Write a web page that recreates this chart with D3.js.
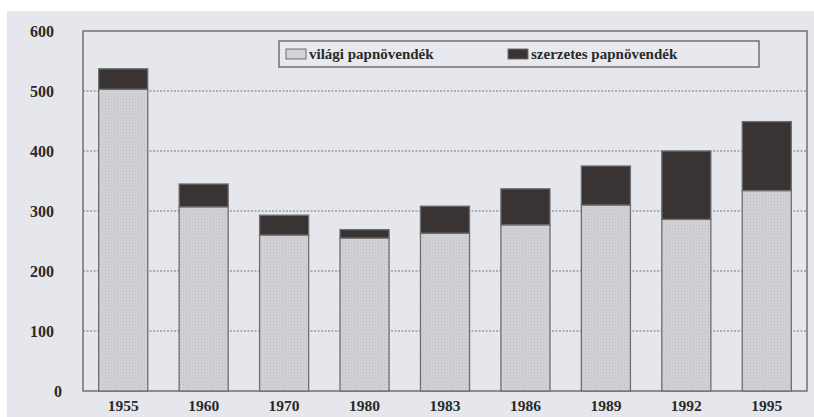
<!DOCTYPE html>
<html>
<head>
<meta charset="utf-8">
<script src="https://cdn.jsdelivr.net/npm/d3@7"></script>
<style>
  body { margin: 0; background: #fff; }
  svg { display: block; }
  text { font-family: "Liberation Serif", "DejaVu Serif", serif; font-weight: bold; fill: #2a2a2a; }
</style>
</head>
<body>
<svg id="chart"></svg>
<script>
// papnövendékek száma évenként, világi + szerzetes (halmozott oszlopok)
const years = ["1955", "1960", "1970", "1980", "1983", "1986", "1989", "1992", "1995"];
const secular = [503, 307, 260, 255, 263, 277, 310, 286, 334];
const religious = [34, 38, 33, 14, 45, 60, 65, 114, 115];
const yTicks = [0, 100, 200, 300, 400, 500, 600];
const seriesNames = ["világi papnövendék", "szerzetes papnövendék"];

const W = 814, H = 417;
const margin = {top: 31, right: 7, bottom: 26, left: 83};

const svg = d3.select("#chart").attr("width", W).attr("height", H);

// paper background (scan has a white strip top and left)
svg.append("rect").attr("x", 7).attr("y", 11).attr("width", W - 7).attr("height", H - 11)
  .attr("fill", "#e6e7ed");

const defs = svg.append("defs");
const pat = defs.append("pattern").attr("id", "stip")
  .attr("width", 3).attr("height", 3).attr("patternUnits", "userSpaceOnUse");
pat.append("rect").attr("width", 3).attr("height", 3).attr("fill", "#d3d3d8");
pat.append("rect").attr("x", 0).attr("y", 0).attr("width", 1).attr("height", 1).attr("fill", "#b9b9bf");
pat.append("rect").attr("x", 1.5).attr("y", 1.5).attr("width", 1).attr("height", 1).attr("fill", "#c2c2c8");

let x = d3.scaleBand()
  .domain(years)
  .range([margin.left, W - margin.right])
  .paddingInner(0.39)
  .paddingOuter(0.195);

let y = d3.scaleLinear()
  .domain([0, 600])
  .range([H - margin.bottom, margin.top]);

// dotted gridlines
svg.append("g").selectAll("line")
  .data(yTicks.filter(d => d > 0 && d < 600))
  .enter().append("line")
  .attr("x1", margin.left).attr("x2", W - margin.right)
  .attr("y1", d => y(d)).attr("y2", d => y(d))
  .attr("stroke", "#777").attr("stroke-width", 1.2)
  .attr("stroke-dasharray", "2,1.5");

// frame
svg.append("rect")
  .attr("x", margin.left).attr("y", margin.top)
  .attr("width", W - margin.right - margin.left)
  .attr("height", y(0) - margin.top)
  .attr("fill", "none").attr("stroke", "#707070").attr("stroke-width", 1.5);

const stack = d3.stack().keys([0, 1]).value((d, k) => d[k]);
const rows = years.map((yr, i) => [secular[i], religious[i]]);
const layers = stack(rows);
const fills = ["url(#stip)", "#393433"];

layers.forEach((layer, k) => {
  svg.append("g").selectAll("rect")
    .data(layer)
    .enter().append("rect")
    .attr("x", (d, i) => x(years[i]))
    .attr("width", x.bandwidth())
    .attr("y", d => y(d[1]))
    .attr("height", d => y(d[0]) - y(d[1]))
    .attr("fill", fills[k])
    .attr("stroke", "#6e6e6e")
    .attr("stroke-width", 1.3);
});

// y tick labels
svg.append("g").selectAll("text")
  .data(yTicks)
  .enter().append("text")
  .attr("x", d => d === 0 ? 62 : 54)
  .attr("y", d => y(d))
  .attr("dy", "0.35em")
  .attr("text-anchor", "end")
  .style("font-size", "16px")
  .text(d => d);

// x labels
svg.append("g").selectAll("text")
  .data(years)
  .enter().append("text")
  .attr("x", d => x(d) + x.bandwidth() / 2)
  .attr("y", 411)
  .attr("text-anchor", "middle")
  .style("font-size", "15.5px")
  .text(d => d);

// legend
const lg = svg.append("g");
lg.append("rect").attr("x", 279).attr("y", 41).attr("width", 480).attr("height", 26)
  .attr("fill", "#e8e9ee").attr("stroke", "#707070").attr("stroke-width", 1.5);
const legX = [286, 508];
seriesNames.forEach((name, k) => {
  lg.append("rect").attr("x", legX[k]).attr("y", 49).attr("width", 20).attr("height", 10)
    .attr("fill", k === 0 ? "#d3d3d8" : fills[1]).attr("stroke", "#6e6e6e").attr("stroke-width", 1);
  lg.append("text").attr("x", legX[k] + 23).attr("y", 54).attr("dy", "0.35em")
    .style("font-size", "15px").text(name);
});
</script>
</body>
</html>
